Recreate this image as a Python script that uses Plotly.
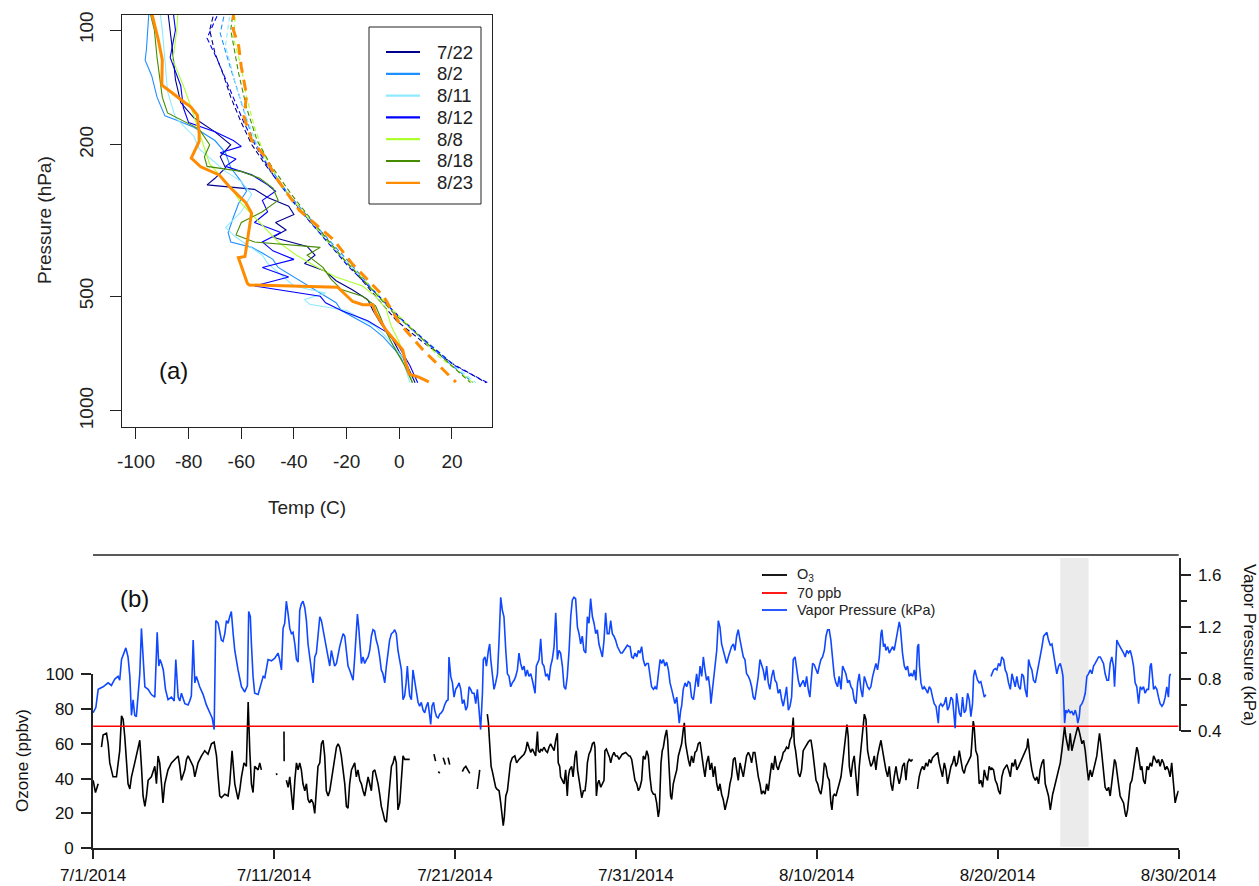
import numpy as np
import pandas as pd
import plotly.graph_objects as go

W, H = 1259, 886
FONT = "Arial, Liberation Sans, sans-serif"


def px(x):
    return x / W


def py(y):
    return 1 - y / H


# ---------------- Panel (a): soundings ----------------
sounding_dates = ["7/22", "8/2", "8/11", "8/12", "8/8", "8/18", "8/23"]
sounding_colors = ["#00008B", "#1E90FF", "#8EEAFF", "#0000FF", "#ADFF2F", "#458B00", "#FF8C00"]

# solid profiles (dew point), pressure hPa / temperature C
dew_p_0722 = [88, 100, 115, 135, 155, 170, 185, 200, 215, 230, 245, 255, 262, 275, 290, 305, 320, 335, 350, 370,
              390, 410, 430, 455, 480, 510, 545, 590, 640, 700, 760, 843]
dew_t_0722 = [-88, -87, -86, -85, -83, -78, -70, -64, -68, -66, -70, -73, -55, -50, -42, -40, -47, -43, -48, -35,
              -32, -36, -28, -24, -18, -12, -10, -7, -3, 0, 3, 6]
dew_p_0802 = [88, 100, 112, 120, 132, 150, 168, 172, 180, 195, 210, 230, 250, 265, 285, 310, 340, 360, 372, 385,
              400, 420, 445, 470, 500, 520, 545, 570, 600, 640, 700, 770, 843]
dew_t_0802 = [-95, -95.5, -96, -96.5, -94, -92, -89, -85, -78, -70, -66, -64, -60, -58, -61, -63, -65, -64, -56, -52,
              -48, -46, -40, -34, -28, -24, -22, -17, -11, -6, -1, 3, 5]
dew_p_0811 = [88, 100, 120, 145, 170, 190, 205, 220, 235, 250, 270, 300, 330, 350, 370, 390, 410, 440, 470, 490,
              510, 525, 545, 575, 600, 650, 720, 800, 843]
dew_t_0811 = [-91, -90, -89, -88, -85, -78, -76, -71, -66, -60, -56, -60, -66, -62, -57, -52, -50, -45, -40, -28,
              -36, -34, -20, -14, -9, -4, 1, 3, 4]
dew_p_0812 = [88, 100, 118, 140, 160, 175, 185, 195, 202, 210, 218, 228, 240, 255, 265, 280, 300, 320, 340, 360,
              380, 400, 420, 445, 470, 490, 500, 520, 545, 580, 620, 680, 760, 843]
dew_t_0812 = [-86, -85, -87, -83, -82, -80, -70, -63, -60, -68, -62, -66, -56, -50, -47, -52, -50, -55, -45, -52,
              -48, -40, -52, -42, -55, -38, -30, -28, -22, -12, -5, 0, 4, 7]
dew_p_0808 = [88, 100, 120, 140, 160, 185, 205, 225, 245, 265, 285, 305, 330, 360, 390, 420, 445, 470, 500, 540,
              600, 660, 730, 800, 843]
dew_t_0808 = [-84, -84.5, -86, -82, -79, -76, -74, -72, -67, -63, -60, -56, -51, -46, -39, -31, -24, -14, -9, -5,
              -3, 0, 2, 4, 5]
dew_p_0818 = [88, 100, 118, 135, 150, 165, 182, 200, 215, 228, 235, 245, 260, 280, 300, 320, 345, 360, 372, 390,
              420, 450, 480, 500, 530, 570, 620, 680, 760, 843]
dew_t_0818 = [-95, -93, -92, -91, -90, -88, -76, -72, -74, -73, -60, -53, -48, -46, -52, -60, -62, -55, -30, -35,
              -29, -26, -22, -14, -9, -7, -5, -2, 2, 5]
dew_p_0823 = [88, 106.2, 119.8, 139.4, 155.7, 159, 167.3, 186.7, 196, 217, 228.5, 240, 257.5, 284, 302.4, 341.8,
              393, 396, 462.4, 467, 473.5, 516, 526, 526, 554, 613, 677, 692, 750, 800, 816, 839]
dew_t_0823 = [-94.4, -91.5, -90, -90.2, -81.1, -79.2, -76.7, -76, -76, -79, -75.4, -68.4, -64.6, -58.3, -56.1, -57.3,
              -58.6, -61.1, -57.7, -57, -23.4, -17.7, -13.9, -10.1, -8.9, -5.1, 0, 1.3, 2.5, 3.8, 7.6, 11.2]

# dashed profiles (temperature)
temp_p_0722 = [88, 100, 115, 130, 150, 175, 200, 225, 260, 300, 360, 430, 500, 580, 660, 750, 843]
temp_t_0722 = [-70, -72, -70, -67, -64, -60, -56, -51, -44, -37, -27, -17, -9, -1, 9, 20, 33]
temp_p_0802 = [88, 102, 120, 140, 165, 190, 220, 270, 330, 400, 480, 560, 650, 750, 843]
temp_t_0802 = [-66, -68, -65, -62, -59, -56, -51, -42, -31, -20, -10, -1, 9, 19, 28]
temp_p_0811 = [88, 110, 140, 170, 200, 235, 285, 350, 420, 500, 580, 670, 770, 843]
temp_t_0811 = [-64, -66, -62, -58, -54, -49, -40, -29, -18, -8, 1, 12, 22, 29]
temp_p_0812 = [88, 105, 120, 140, 175, 205, 240, 290, 350, 420, 490, 575, 665, 760, 843]
temp_t_0812 = [-68, -73, -69, -65, -59, -54, -48, -39, -29, -19, -9, 1, 11, 21, 33.5]
temp_p_0808 = [88, 105, 125, 150, 180, 215, 260, 310, 380, 450, 530, 620, 720, 843]
temp_t_0808 = [-62, -63, -60, -58, -55, -51, -44, -35, -24, -14, -4, 6, 15, 28]
temp_p_0818 = [88, 100, 130, 160, 195, 225, 270, 330, 400, 475, 555, 640, 740, 843]
temp_t_0818 = [-63, -64, -61, -58, -54, -49, -41, -31, -21, -11, -2, 8, 18, 27]
temp_p_0823 = [88, 100, 110, 125, 148, 169, 195, 215, 243, 297, 355, 410, 500, 588, 692, 840]
temp_t_0823 = [-63, -63, -61, -60, -58, -59, -56, -51, -47, -38, -25, -18, -6, 0, 9, 21.5]

dew_p = [dew_p_0722, dew_p_0802, dew_p_0811, dew_p_0812, dew_p_0808, dew_p_0818, dew_p_0823]
dew_t = [dew_t_0722, dew_t_0802, dew_t_0811, dew_t_0812, dew_t_0808, dew_t_0818, dew_t_0823]
temp_p = [temp_p_0722, temp_p_0802, temp_p_0811, temp_p_0812, temp_p_0808, temp_p_0818, temp_p_0823]
temp_t = [temp_t_0722, temp_t_0802, temp_t_0811, temp_t_0812, temp_t_0808, temp_t_0818, temp_t_0823]

temp_ticks = [-100, -80, -60, -40, -20, 0, 20]
temp_tick_text = ["-100", "-80", "-60", "-40", "-20", "0", "20"]
pressure_ticks = [100, 200, 500, 1000]

# ---------------- Panel (b): time series ----------------
START = pd.Timestamp("2014-07-01")
date_ticks = ["2014-07-01", "2014-07-11", "2014-07-21", "2014-07-31", "2014-08-10", "2014-08-20", "2014-08-30"]
date_tick_text = ["7/1/2014", "7/11/2014", "7/21/2014", "7/31/2014", "8/10/2014", "8/20/2014", "8/30/2014"]
threshold_ppb = 70
band_start = "2014-08-23 11:00"
band_end = "2014-08-25 00:40"

# (days since 7/1, vapor pressure kPa); None = gap
vp_points = [
    (0, 0.54), (0.15, 0.58), (0.28, 0.72), (0.55, 0.74), (0.83, 0.77), (1.01, 0.75), (1.2, 0.8), (1.38, 0.82),
    (1.47, 0.79), (1.57, 0.95), (1.81, 1.04), (1.93, 0.97), (2.03, 0.82), (2.12, 0.52), (2.21, 0.64), (2.3, 0.52),
    (2.39, 0.51), (2.49, 0.69), (2.58, 0.84), (2.67, 1.19), (2.76, 0.95), (2.86, 0.74), (3.04, 0.72), (3.22, 0.68),
    (3.41, 0.66), (3.54, 1.16), (3.63, 0.9), (3.7, 0.95), (3.78, 0.92), (3.88, 0.87), (4.0, 0.72), (4.14, 0.64),
    (4.33, 0.66), (4.48, 0.63), (4.57, 0.95), (4.64, 0.82), (4.7, 0.66), (4.79, 0.63), (4.88, 0.69), (5.07, 0.61),
    (5.25, 0.6), (5.34, 0.63), (5.43, 0.67), (5.53, 1.1), (5.62, 0.77), (5.71, 0.82), (5.89, 0.74), (6.08, 0.68),
    (6.26, 0.6), (6.45, 0.54), (6.58, 0.5), (6.69, 0.41), (6.78, 1.25), (6.91, 1.23), (7.0, 1.15), (7.09, 1.1),
    (7.18, 1.09), (7.28, 1.15), (7.37, 1.25), (7.46, 1.23), (7.55, 1.28), (7.64, 1.32), (7.74, 1.15), (7.83, 1.02),
    (8.01, 0.87), (8.2, 0.74), (8.38, 0.7), (8.53, 0.75), (8.6, 1.32), (8.69, 1.28), (8.75, 1.07), (8.84, 0.82),
    (8.93, 0.69), (9.12, 0.68), (9.3, 0.77), (9.4, 0.82), (9.49, 0.81),
    (9.67, 0.95), (9.86, 0.94), (10.04, 0.96), (10.22, 1.0), (10.31, 0.95), (10.41, 0.87), (10.5, 1.19),
    (10.59, 1.23), (10.68, 1.4), (10.78, 1.3), (10.87, 1.19), (10.96, 1.15), (11.05, 1.16), (11.15, 1.07),
    (11.24, 0.95), (11.33, 0.93), (11.42, 1.33), (11.51, 1.38), (11.6, 1.4), (11.7, 1.35), (11.79, 1.25),
    (11.88, 1.07), (11.97, 0.97), (12.06, 0.84), (12.16, 0.77), (12.25, 0.97), (12.34, 1.0), (12.43, 1.13),
    (12.53, 1.28), (12.62, 1.25), (12.71, 1.18), (12.8, 1.1), (12.9, 1.02), (12.99, 0.97), (13.08, 0.9),
    (13.17, 1.02), (13.26, 0.95), (13.35, 0.9), (13.45, 0.92), (13.54, 1.0), (13.63, 1.05), (13.72, 1.1),
    (13.82, 1.15), (13.91, 1.13), (14.0, 1.02), (14.09, 0.9), (14.18, 0.87), (14.28, 0.82), (14.37, 0.79),
    (14.46, 0.97), (14.55, 1.15), (14.61, 1.3), (14.68, 1.2), (14.74, 1.07), (14.83, 0.92), (14.92, 0.97),
    (15.01, 0.92), (15.11, 0.95), (15.2, 0.97), (15.29, 1.02), (15.38, 1.13), (15.47, 1.18), (15.56, 1.17),
    (15.65, 1.1), (15.75, 1.05), (15.84, 0.97), (15.93, 0.87), (16.02, 0.84), (16.12, 0.77), (16.21, 0.9),
    (16.3, 1.02), (16.39, 1.1), (16.49, 1.15), (16.58, 1.16), (16.67, 1.18), (16.76, 1.15), (16.85, 1.02),
    (16.95, 0.92), (17.04, 0.87), (17.13, 0.64), (17.22, 0.67), (17.3, 0.77), (17.37, 0.9), (17.45, 0.74),
    (17.5, 0.67), (17.59, 0.64), (17.68, 0.87), (17.77, 0.79), (17.86, 0.72), (17.96, 0.62), (18.05, 0.59),
    (18.14, 0.62), (18.24, 0.56), (18.33, 0.54), (18.42, 0.59), (18.51, 0.62), (18.61, 0.51), (18.66, 0.45),
    (18.73, 0.59), (18.82, 0.62), (18.88, 0.56), (18.98, 0.51), (19.07, 0.5), (19.16, 0.53), (19.25, 0.54),
    (19.34, 0.56), (19.43, 0.6), (19.53, 0.63), (19.62, 0.64), (19.67, 0.97),
    (19.77, 0.82), (19.86, 0.77), (19.95, 0.66), (20.04, 0.72), (20.13, 0.74), (20.23, 0.77), (20.32, 0.72),
    (20.41, 0.61), (20.5, 0.64), (20.6, 0.56), (20.69, 0.59), (20.78, 0.74), (20.87, 0.72), (20.96, 0.69),
    (21.06, 0.69), (21.15, 0.61), (21.24, 0.72), (21.33, 0.59), (21.42, 0.41), (21.52, 0.69), (21.57, 0.95),
    (21.66, 0.97), (21.74, 0.9), (21.85, 1.02), (21.92, 1.07), (21.98, 0.95), (22.07, 0.82), (22.16, 0.72),
    (22.25, 0.77), (22.35, 0.84), (22.44, 1.1), (22.53, 1.43), (22.62, 1.33), (22.71, 1.28), (22.81, 1.02),
    (22.9, 0.84), (22.99, 0.82), (23.08, 0.74), (23.17, 0.77), (23.27, 0.79), (23.36, 0.82), (23.45, 0.87),
    (23.54, 1.0), (23.63, 0.92), (23.73, 0.87), (23.82, 0.9), (23.91, 0.82), (24.0, 0.87), (24.09, 0.82),
    (24.19, 0.84), (24.28, 0.79), (24.37, 0.74), (24.43, 0.69), (24.5, 0.9), (24.56, 0.92), (24.65, 0.95),
    (24.74, 1.11), (24.8, 1.02), (24.83, 0.92), (24.92, 0.9), (25.02, 0.82), (25.11, 0.84), (25.2, 0.79),
    (25.29, 0.9), (25.38, 0.95), (25.48, 1.05), (25.57, 1.31), (25.61, 1.2), (25.66, 0.95), (25.75, 1.02),
    (25.84, 1.0), (25.94, 0.9), (26.03, 0.74), (26.12, 0.72), (26.21, 0.82), (26.31, 1.02), (26.4, 1.28),
    (26.49, 1.41), (26.58, 1.43), (26.67, 1.42), (26.77, 1.2), (26.86, 1.15), (26.95, 1.07), (27.04, 1.13),
    (27.13, 1.02), (27.23, 1.0), (27.32, 1.28), (27.41, 1.23), (27.5, 1.42), (27.6, 1.28), (27.69, 1.23),
    (27.78, 1.15), (27.87, 1.18), (27.96, 1.07), (28.06, 1.02), (28.15, 0.97), (28.24, 1.1), (28.33, 1.31),
    (28.42, 1.15), (28.52, 1.15), (28.61, 1.25), (28.7, 1.15), (28.79, 1.13), (28.88, 1.1), (28.98, 1.05),
    (29.07, 1.02), (29.16, 1.0), (29.25, 1.0), (29.34, 1.02), (29.44, 1.04), (29.53, 1.06), (29.62, 1.05),
    (29.68, 1.05), (29.77, 0.97), (29.86, 0.96), (29.95, 1.0), (30.05, 0.97), (30.14, 1.02), (30.23, 1.0),
    (30.32, 1.05), (30.41, 0.95), (30.51, 0.9), (30.6, 0.92), (30.69, 0.92), (30.78, 0.84), (30.87, 0.74),
    (30.97, 0.72), (31.06, 0.74), (31.15, 0.72), (31.24, 0.82), (31.34, 0.95), (31.43, 0.92), (31.52, 0.95),
    (31.61, 0.9), (31.7, 0.93), (31.8, 0.87), (31.89, 0.77), (31.98, 0.72), (32.07, 0.66), (32.16, 0.61),
    (32.26, 0.66), (32.35, 0.54), (32.4, 0.46), (32.48, 0.56), (32.53, 0.59), (32.62, 0.72), (32.72, 0.77),
    (32.81, 0.74), (32.9, 0.78), (32.99, 0.77), (33.08, 0.66), (33.18, 0.64), (33.27, 0.77), (33.36, 0.84),
    (33.45, 0.74), (33.55, 0.9), (33.64, 0.82), (33.73, 0.97), (33.82, 0.87), (33.91, 0.79), (34.01, 0.82),
    (34.1, 0.72), (34.15, 0.61), (34.25, 0.74), (34.32, 0.82), (34.39, 0.95), (34.47, 1.02), (34.56, 1.25),
    (34.65, 1.2), (34.74, 1.07), (34.83, 1.02), (34.93, 0.97), (35.02, 0.92), (35.11, 0.97), (35.2, 1.02),
    (35.29, 1.05), (35.39, 1.07), (35.48, 1.02), (35.57, 1.13), (35.66, 1.18), (35.76, 1.1), (35.85, 1.02),
    (35.94, 0.97), (36.03, 0.95), (36.12, 0.84), (36.22, 0.82), (36.31, 0.79), (36.4, 0.74), (36.49, 0.66),
    (36.58, 0.64), (36.68, 0.72), (36.77, 0.82), (36.86, 0.95), (36.95, 0.9), (37.04, 0.87), (37.14, 0.79),
    (37.23, 0.9), (37.32, 0.77), (37.41, 0.72), (37.51, 0.82), (37.6, 0.87), (37.69, 0.79), (37.78, 0.77),
    (37.87, 0.69), (37.97, 0.72), (38.06, 0.64), (38.15, 0.59), (38.24, 0.66), (38.33, 0.74), (38.43, 0.56),
    (38.52, 0.59), (38.61, 0.66), (38.7, 0.95), (38.8, 0.97), (38.89, 0.87), (38.98, 0.79), (39.07, 0.74),
    (39.16, 0.77), (39.25, 0.79), (39.35, 0.74), (39.44, 0.82), (39.53, 0.72), (39.62, 0.66),
    (39.68, 0.77), (39.77, 0.92), (39.86, 0.91), (39.96, 0.87), (40.05, 0.84), (40.14, 0.9), (40.23, 0.95),
    (40.32, 0.97), (40.42, 1.02), (40.51, 1.13), (40.6, 1.18), (40.69, 1.18), (40.78, 1.1), (40.88, 0.95),
    (40.97, 0.82), (41.06, 0.77), (41.15, 0.74), (41.24, 0.82), (41.34, 0.72), (41.43, 0.9), (41.52, 0.87),
    (41.61, 0.84), (41.71, 0.77), (41.8, 0.79), (41.89, 0.74), (41.98, 0.72), (42.07, 0.64), (42.17, 0.61),
    (42.26, 0.77), (42.35, 0.84), (42.44, 0.72), (42.53, 0.66), (42.63, 0.82), (42.72, 0.77), (42.81, 0.74),
    (42.9, 0.72), (42.99, 0.74), (43.09, 0.82), (43.18, 0.87), (43.27, 0.92), (43.36, 0.87), (43.46, 0.97),
    (43.55, 1.15), (43.6, 1.18), (43.69, 1.05), (43.77, 1.07), (43.82, 1.02), (43.92, 1.05), (44.01, 1.0),
    (44.1, 1.02), (44.19, 1.05), (44.28, 1.02), (44.38, 1.1), (44.47, 1.15), (44.56, 1.24), (44.62, 1.2),
    (44.69, 1.05), (44.74, 1.0), (44.84, 0.9), (44.93, 0.87), (45.02, 0.9), (45.11, 0.82), (45.21, 0.84),
    (45.3, 0.82), (45.39, 0.87), (45.48, 0.79), (45.57, 1.05), (45.63, 1.07), (45.68, 0.9), (45.76, 0.77),
    (45.85, 0.72), (45.94, 0.74), (46.03, 0.72), (46.13, 0.69), (46.22, 0.74), (46.31, 0.72), (46.4, 0.66),
    (46.49, 0.61), (46.59, 0.59), (46.64, 0.54), (46.72, 0.46), (46.77, 0.59), (46.86, 0.61), (46.95, 0.59),
    (47.05, 0.61), (47.14, 0.66), (47.23, 0.56), (47.32, 0.59), (47.42, 0.66), (47.51, 0.64), (47.6, 0.51),
    (47.65, 0.42), (47.73, 0.69), (47.78, 0.64), (47.88, 0.54), (47.97, 0.51), (48.06, 0.66), (48.15, 0.54),
    (48.24, 0.56), (48.34, 0.69), (48.43, 0.64), (48.52, 0.51), (48.61, 0.61), (48.67, 0.82), (48.74, 0.87),
    (48.83, 0.82), (48.89, 0.79), (48.98, 0.77), (49.07, 0.78), (49.17, 0.72), (49.26, 0.66), (49.35, 0.68),
    None,
    (49.63, 0.82), (49.68, 0.84), (49.77, 0.87), (49.87, 0.88), (49.96, 0.87), (50.05, 0.92), (50.14, 0.9),
    (50.23, 0.97), (50.33, 0.95), (50.42, 0.87), (50.51, 0.84), (50.6, 0.77), (50.7, 0.72), (50.79, 0.84),
    (50.88, 0.79), (50.97, 0.74), (51.06, 0.82), (51.16, 0.74), (51.25, 0.72), (51.34, 0.84), (51.43, 0.82),
    (51.52, 0.72), (51.62, 0.66), (51.71, 0.95), (51.8, 0.9), (51.89, 0.87), (51.98, 0.79), (52.08, 0.77),
    (52.17, 0.84), (52.26, 0.9), (52.35, 0.97), (52.45, 1.05), (52.54, 1.13), (52.63, 1.15), (52.72, 1.16),
    (52.81, 1.1), (52.91, 1.06), (53.0, 1.07), (53.09, 1.0), (53.18, 0.92), (53.27, 0.84), (53.37, 0.9),
    (53.46, 0.92), (53.55, 0.87), (53.61, 0.82), (53.7, 0.46), (53.77, 0.56), (53.83, 0.54), (53.92, 0.56),
    (54.01, 0.54), (54.1, 0.55), (54.19, 0.52), (54.29, 0.56), (54.38, 0.51), (54.43, 0.46), (54.51, 0.51),
    (54.56, 0.59), (54.66, 0.61), (54.75, 0.64), (54.84, 0.69), (54.93, 0.82), (55.02, 0.84), (55.12, 0.87),
    (55.21, 0.84), (55.3, 0.9), (55.39, 0.92), (55.48, 0.95), (55.58, 0.97), (55.67, 0.97), (55.76, 0.95),
    (55.85, 0.92), (55.94, 0.84), (56.04, 0.79), (56.13, 0.79), (56.22, 0.92), (56.31, 0.97), (56.4, 0.9),
    (56.46, 0.74), (56.53, 0.95), (56.59, 1.1), (56.68, 1.07), (56.77, 1.05), (56.87, 1.02), (56.96, 1.0),
    (57.05, 0.97), (57.14, 1.02), (57.23, 1.0), (57.33, 1.02), (57.42, 0.97), (57.51, 0.9), (57.6, 0.77),
    (57.69, 0.74), (57.79, 0.61), (57.88, 0.74), (57.97, 0.72), (58.06, 0.74), (58.15, 0.69), (58.25, 0.72),
    (58.34, 0.72), (58.43, 0.9), (58.49, 0.92), (58.56, 0.79), (58.62, 0.72), (58.71, 0.74), (58.8, 0.72),
    (58.89, 0.66), (58.98, 0.61), (59.08, 0.59), (59.17, 0.61), (59.26, 0.66), (59.35, 0.74), (59.44, 0.66),
    (59.5, 0.82), (59.55, 0.84),
]

# (days since 7/1, ozone ppbv); None = gap
o3_points = [
    (0, 39), (0.13, 32), (0.28, 37), None,
    (0.46, 58), (0.55, 65), (0.74, 66), (0.83, 60), (0.92, 49), (1.1, 41), (1.29, 41), (1.47, 56), (1.57, 76),
    (1.66, 74), (1.75, 64), (1.84, 49), (1.93, 37), (2.03, 34), (2.12, 41), (2.3, 49), (2.49, 58), (2.58, 62),
    (2.67, 47), (2.76, 30), (2.86, 24), (2.95, 30), (3.04, 39), (3.22, 41), (3.41, 47), (3.5, 37), (3.59, 53),
    (3.68, 49), (3.78, 37), (3.86, 26), (3.96, 37), (4.14, 45), (4.33, 49), (4.51, 51), (4.7, 53), (4.79, 47),
    (4.88, 39), (5.07, 45), (5.16, 51), (5.25, 53), (5.43, 49), (5.53, 47), (5.62, 41), (5.8, 49), (5.99, 53),
    (6.17, 56), (6.35, 54), (6.54, 60), (6.69, 61), (6.82, 53), (6.91, 41), (7.0, 30), (7.09, 29), (7.28, 31),
    (7.46, 30), (7.55, 37), (7.68, 56), (7.83, 37), (8.01, 28), (8.1, 33), (8.2, 41), (8.34, 49), (8.47, 47),
    (8.57, 84), (8.66, 56), (8.75, 37), (8.84, 32), (8.93, 47), (9.12, 45), (9.21, 49), (9.3, 45), None,
    (10.13, 43), (10.16, 42), None, (10.55, 67), (10.56, 50), None,
    (10.68, 39), (10.78, 35), (10.87, 41), (10.96, 33), (11.05, 22), (11.15, 39), (11.24, 49), (11.33, 45),
    (11.42, 49), (11.51, 45), (11.6, 37), (11.7, 33), (11.79, 37), (11.88, 28), (11.97, 26), (12.06, 28),
    (12.16, 26), (12.25, 20), (12.34, 37), (12.43, 47), (12.53, 49), (12.62, 60), (12.71, 62), (12.8, 53),
    (12.89, 33), (12.99, 30), (13.08, 33), (13.17, 39), (13.26, 45), (13.35, 53), (13.45, 58), (13.54, 60),
    (13.63, 58), (13.72, 53), (13.82, 45), (13.91, 37), (14.0, 24), (14.09, 23), (14.18, 37), (14.28, 45),
    (14.37, 47), (14.46, 49), (14.55, 41), (14.64, 45), (14.74, 39), (14.83, 37), (14.92, 33), (15.01, 30),
    (15.1, 35), (15.2, 41), (15.29, 37), (15.38, 33), (15.47, 44), (15.57, 45), (15.66, 41), (15.75, 37),
    (15.84, 31), (15.93, 24), (16.03, 20), (16.12, 16), (16.21, 15), (16.3, 24), (16.39, 37), (16.49, 47),
    (16.58, 49), (16.67, 53), (16.76, 49), (16.85, 22), (16.95, 26), (17.04, 39), (17.13, 53), (17.22, 51),
    (17.41, 51), (17.5, 51), None,
    (18.84, 54), (18.93, 50), None, (19.08, 44), (19.16, 43), None, (19.35, 52), (19.47, 48), None,
    (19.62, 52), (19.71, 48), None,
    (20.41, 44), (20.5, 46), (20.6, 47), (20.69, 45), (20.82, 43), None, (21.24, 34), (21.3, 38), (21.37, 45), None,
    (21.79, 77), (21.85, 72), (21.92, 60), (22.0, 47), (22.07, 44), (22.16, 39), (22.25, 35), (22.31, 34),
    (22.44, 33), (22.53, 26), (22.62, 18), (22.67, 13), (22.73, 18), (22.81, 30), (22.9, 33), (23.0, 41),
    (23.07, 49), (23.17, 52), (23.31, 53), (23.41, 49), (23.54, 51), (23.73, 53), (23.82, 54), (23.91, 56),
    (24.0, 61), (24.09, 58), (24.19, 55), (24.28, 57), (24.37, 55), (24.46, 53), (24.56, 67), (24.61, 56),
    (24.69, 55), (24.74, 57), (24.83, 56), (24.92, 58), (25.02, 56), (25.11, 55), (25.2, 58), (25.29, 60),
    (25.38, 58), (25.48, 56), (25.57, 62), (25.66, 66), (25.71, 49), (25.79, 47), (25.84, 41), (25.94, 39),
    (26.03, 37), (26.12, 45), (26.16, 35), (26.21, 30), (26.27, 41), (26.34, 45), (26.45, 47), (26.53, 41),
    (26.64, 53), (26.71, 56), (26.78, 45), (26.89, 37), (26.95, 33), (27.01, 29), (27.1, 33), (27.19, 33),
    (27.26, 39), (27.32, 49), (27.41, 54), (27.5, 56), (27.6, 60), (27.69, 61), (27.74, 58), (27.82, 30),
    (27.89, 37), (27.96, 39), (28.06, 35), (28.15, 37), (28.24, 39), (28.29, 56), (28.37, 57), (28.48, 54),
    (28.55, 52), (28.61, 49), (28.7, 53), (28.79, 55), (28.88, 53), (28.98, 53), (29.07, 51), (29.25, 54),
    (29.44, 55), (29.53, 54), (29.62, 53),
    (29.68, 53), (29.77, 51), (29.86, 45), (29.95, 39), (30.05, 37), (30.14, 33), (30.23, 35), (30.32, 39),
    (30.41, 53), (30.51, 51), (30.6, 56), (30.69, 53), (30.78, 41), (30.87, 33), (30.97, 31), (31.06, 31),
    (31.15, 26), (31.24, 18), (31.3, 22), (31.34, 37), (31.39, 49), (31.46, 56), (31.52, 58), (31.61, 64),
    (31.7, 68), (31.76, 62), (31.85, 41), (31.92, 30), (31.98, 28), (32.07, 37), (32.16, 41), (32.26, 45),
    (32.35, 53), (32.44, 56), (32.53, 60), (32.62, 68), (32.68, 72), (32.75, 60), (32.81, 56), (32.9, 51),
    (32.99, 47), (33.08, 53), (33.18, 49), (33.27, 55), (33.36, 56), (33.45, 60), (33.55, 61), (33.64, 53),
    (33.73, 47), (33.82, 41), (33.91, 49), (34.01, 53), (34.1, 45), (34.19, 49), (34.28, 41), (34.37, 47),
    (34.47, 37), (34.56, 33), (34.65, 37), (34.74, 31), (34.83, 28), (34.93, 22), (35.02, 26), (35.11, 30),
    (35.2, 37), (35.29, 41), (35.39, 51), (35.48, 52), (35.57, 45), (35.66, 39), (35.76, 49), (35.85, 45),
    (35.94, 41), (36.03, 47), (36.12, 53), (36.22, 55), (36.31, 53), (36.4, 49), (36.49, 55), (36.58, 55),
    (36.68, 47), (36.77, 41), (36.86, 37), (36.95, 31), (37.04, 33), (37.14, 31), (37.23, 37), (37.32, 33),
    (37.41, 41), (37.51, 49), (37.6, 45), (37.69, 53), (37.78, 47), (37.87, 45), (37.97, 49), (38.06, 51),
    (38.15, 55), (38.24, 56), (38.33, 58), (38.43, 57), (38.52, 62), (38.61, 64), (38.7, 75), (38.76, 60),
    (38.83, 56), (38.89, 49), (38.98, 43), (39.07, 41), (39.16, 45), (39.25, 56), (39.35, 58), (39.44, 60),
    (39.53, 61), (39.62, 62),
    (39.68, 62), (39.77, 56), (39.86, 49), (39.96, 39), (40.05, 37), (40.14, 33), (40.23, 31), (40.32, 37),
    (40.42, 49), (40.51, 47), (40.6, 41), (40.69, 39), (40.78, 26), (40.84, 22), (40.91, 30), (40.97, 31),
    (41.06, 30), (41.15, 33), (41.24, 37), (41.34, 41), (41.43, 49), (41.52, 56), (41.61, 64), (41.67, 71),
    (41.74, 64), (41.8, 47), (41.89, 41), (41.98, 49), (42.07, 53), (42.17, 41), (42.26, 30), (42.35, 47),
    (42.44, 56), (42.53, 68), (42.63, 77), (42.72, 74), (42.81, 56), (42.9, 51), (42.99, 47), (43.09, 49),
    (43.18, 53), (43.27, 45), (43.36, 53), (43.46, 58), (43.55, 62), (43.64, 56), (43.73, 49), (43.82, 45),
    (43.92, 41), (44.01, 47), (44.1, 37), (44.19, 33), (44.28, 41), (44.38, 47), (44.47, 41), (44.56, 37),
    (44.65, 41), (44.74, 47), (44.84, 49), (44.93, 39), (45.02, 49), (45.11, 51), (45.21, 50), (45.3, 51), None,
    (45.57, 34), (45.66, 41), (45.76, 45), (45.85, 47), (45.94, 45), (46.03, 49), (46.13, 47), (46.22, 51),
    (46.31, 49), (46.4, 52), (46.49, 53), (46.59, 54), (46.68, 55), (46.77, 49), (46.86, 45), (46.95, 41),
    (47.05, 49), (47.14, 45), (47.23, 37), (47.32, 41), (47.42, 47), (47.51, 49), (47.6, 53), (47.69, 47),
    (47.78, 49), (47.88, 56), (47.97, 49), (48.06, 45), (48.15, 43), (48.24, 47), (48.34, 49), (48.43, 51),
    (48.52, 53), (48.57, 60), (48.65, 73), (48.7, 70), (48.79, 56), (48.89, 53), (48.98, 37), (49.07, 39),
    (49.17, 35), (49.26, 45), (49.35, 41), (49.44, 39), (49.53, 47), (49.63, 45),
    (49.68, 46), (49.77, 45), (49.87, 39), (49.96, 37), (50.05, 33), (50.14, 31), (50.23, 41), (50.33, 45),
    (50.42, 47), (50.51, 48), (50.6, 45), (50.7, 41), (50.79, 49), (50.88, 47), (50.97, 51), (51.06, 45),
    (51.16, 47), (51.25, 49), (51.34, 51), (51.43, 53), (51.52, 55), (51.62, 58), (51.67, 63), (51.74, 55),
    (51.8, 51), (51.89, 45), (51.98, 41), (52.08, 39), (52.17, 41), (52.26, 37), (52.35, 45), (52.45, 49),
    (52.54, 51), (52.63, 37), (52.72, 33), (52.81, 30), (52.91, 22), (52.96, 26), (53.04, 31), (53.09, 33),
    (53.18, 37), (53.27, 41), (53.37, 45), (53.46, 49), (53.55, 56), (53.64, 64), (53.7, 70), (53.77, 64),
    (53.84, 60), (53.92, 56), (54.01, 66), (54.1, 56), (54.19, 60), (54.29, 64), (54.38, 67), (54.43, 70),
    (54.51, 67), (54.56, 64), (54.66, 60), (54.75, 62), (54.84, 56), (54.93, 47), (55.02, 39), (55.12, 45),
    (55.21, 41), (55.3, 45), (55.39, 49), (55.48, 53), (55.58, 62), (55.63, 66), (55.7, 60), (55.76, 53),
    (55.85, 45), (55.94, 35), (56.04, 33), (56.13, 35), (56.22, 30), (56.31, 37), (56.4, 47), (56.46, 51),
    (56.53, 49), (56.59, 45), (56.68, 37), (56.77, 30), (56.87, 28), (56.96, 26), (57.05, 20), (57.1, 18),
    (57.18, 22), (57.23, 26), (57.33, 37), (57.42, 39), (57.51, 45), (57.6, 53), (57.69, 58), (57.75, 56),
    (57.82, 49), (57.9, 45), (57.97, 47), (58.06, 39), (58.15, 37), (58.25, 47), (58.34, 45), (58.43, 49),
    (58.52, 47), (58.62, 53), (58.71, 51), (58.8, 49), (58.89, 51), (58.98, 47), (59.08, 51), (59.17, 49),
    (59.26, 45), (59.35, 47), (59.44, 45), (59.53, 41), (59.62, 49), (59.72, 37), (59.81, 26), (59.9, 30),
    (59.99, 33),
]


def split_series(points):
    xs, ys = [], []
    for p in points:
        if p is None:
            xs.append(None)
            ys.append(None)
        else:
            xs.append(START + pd.Timedelta(days=p[0]))
            ys.append(p[1])
    return xs, ys


vp_x, vp_y = split_series(vp_points)
o3_x, o3_y = split_series(o3_points)

fig = go.Figure()

# ---- panel (a) traces ----
for i, name in enumerate(sounding_dates):
    thick = name == "8/23"
    fig.add_trace(go.Scatter(
        x=temp_t[i], y=temp_p[i], mode="lines", xaxis="x", yaxis="y", showlegend=False,
        line=dict(color=sounding_colors[i], width=3 if thick else 1.1,
                  dash="11px,7px" if thick else "5px,3px"),
        name=name + " T"))
for i, name in enumerate(sounding_dates):
    thick = name == "8/23"
    fig.add_trace(go.Scatter(
        x=dew_t[i], y=dew_p[i], mode="lines", xaxis="x", yaxis="y", showlegend=False,
        line=dict(color=sounding_colors[i], width=3 if thick else 1.1),
        name=name))

# ---- panel (b) traces ----
fig.add_trace(go.Scatter(x=o3_x, y=o3_y, mode="lines", xaxis="x2", yaxis="y2", showlegend=False,
                         line=dict(color="black", width=1.6), name="O3", connectgaps=False))
fig.add_trace(go.Scatter(x=[START, pd.Timestamp(date_ticks[-1])], y=[threshold_ppb, threshold_ppb],
                         mode="lines", xaxis="x2", yaxis="y2", showlegend=False,
                         line=dict(color="#FF0000", width=1.6), name="70 ppb"))
fig.add_trace(go.Scatter(x=vp_x, y=vp_y, mode="lines", xaxis="x2", yaxis="y3", showlegend=False,
                         line=dict(color="#1048FF", width=1.6), name="Vapor Pressure (kPa)", connectgaps=False))

tick_font_a = dict(family=FONT, size=19, color="#222222")
tick_font_b = dict(family=FONT, size=17, color="#111111")

fig.update_layout(
    width=W, height=H,
    margin=dict(l=0, r=0, t=0, b=0),
    paper_bgcolor="white", plot_bgcolor="rgba(0,0,0,0)",
    showlegend=False,
    font=dict(family=FONT, color="#222222"),
    xaxis=dict(domain=[px(122), px(492)], anchor="y", range=[-105.3, 35.2], tickvals=temp_ticks,
               ticktext=temp_tick_text,
               ticks="outside", ticklen=11, tickwidth=1, tickcolor="#222", showline=True, linecolor="#222",
               linewidth=1, mirror=True, showgrid=False, zeroline=False, tickfont=tick_font_a,
               ticklabelstandoff=6, automargin=False),
    yaxis=dict(domain=[py(427), py(15)], anchor="x", type="log",
               range=[np.log10(1102), np.log10(91.3)], tickvals=pressure_ticks,
               ticktext=[str(v) for v in pressure_ticks], tickangle=-90,
               ticks="outside", ticklen=11, tickwidth=1, tickcolor="#222", showline=True, linecolor="#222",
               linewidth=1, mirror=True, showgrid=False, zeroline=False, tickfont=tick_font_a,
               ticklabelstandoff=9, automargin=False),
    xaxis2=dict(domain=[px(93), px(1178.7)], anchor="y2", type="date",
                range=["2014-06-30 23:50", "2014-08-30 00:10"], tickvals=date_ticks, ticktext=date_tick_text,
                ticks="outside", ticklen=9, tickwidth=1.5, tickcolor="#222", showline=True, linecolor="#222",
                linewidth=1.6, showgrid=False, zeroline=False, tickfont=tick_font_b, ticklabelstandoff=1,
                automargin=False),
    yaxis2=dict(domain=[py(848.3), py(674)], anchor="x2", range=[-0.05, 100.05], tick0=0, dtick=20,
                ticks="outside", ticklen=10, tickwidth=1.5, tickcolor="#222", showline=True, linecolor="#222",
                linewidth=1.6, showgrid=False, zeroline=False, tickfont=tick_font_b, ticklabelstandoff=4,
                automargin=False),
    yaxis3=dict(domain=[py(731), py(558)], anchor="x2", side="right", range=[0.399, 1.733], tick0=0.4, dtick=0.4,
                tickformat=".1f",
                ticks="outside", ticklen=10, tickwidth=1.5, tickcolor="#222", showline=True, linecolor="#222",
                linewidth=1.6, showgrid=False, zeroline=False, tickfont=tick_font_b, ticklabelstandoff=4,
                minor=dict(dtick=0.2, tick0=0.4, ticks="outside", ticklen=6, tickwidth=1.5, tickcolor="#222"),
                automargin=False),
)

shapes = []
# shaded period in panel (b)
shapes.append(dict(type="rect", xref="x2", yref="paper", x0=band_start, x1=band_end, y0=py(846.7), y1=py(558),
                   fillcolor="#EBEBEB", line=dict(width=0), layer="below"))
# top frame line of panel (b)
shapes.append(dict(type="line", xref="paper", yref="paper", x0=px(93), x1=px(1178.7), y0=py(555), y1=py(555),
                   line=dict(color="#222", width=1.6)))

# legend of panel (a)
shapes.append(dict(type="rect", xref="paper", yref="paper", x0=px(369), x1=px(481), y0=py(204), y1=py(27),
                   line=dict(color="#222", width=1), fillcolor="white"))
annotations = []
for i, name in enumerate(sounding_dates):
    yrow = 52 + 21.8 * i
    shapes.append(dict(type="line", xref="paper", yref="paper", x0=px(386), x1=px(420), y0=py(yrow), y1=py(yrow),
                       line=dict(color=sounding_colors[i], width=2.2)))
    annotations.append(dict(x=px(435), y=py(yrow), xref="paper", yref="paper", text=name, showarrow=False,
                            xanchor="left", yanchor="middle", font=dict(family=FONT, size=18.5, color="#222")))

# legend of panel (b)
legend_b = [("O<sub>3</sub>", "black", 575), ("70 ppb", "#FF0000", 593), ("Vapor Pressure (kPa)", "#1048FF", 610)]
for label, col, yrow in legend_b:
    shapes.append(dict(type="line", xref="paper", yref="paper", x0=px(762), x1=px(787), y0=py(yrow), y1=py(yrow),
                       line=dict(color=col, width=1.8)))
    annotations.append(dict(x=px(795), y=py(yrow), xref="paper", yref="paper", text=label, showarrow=False,
                            xanchor="left", yanchor="middle", font=dict(family=FONT, size=14.5, color="#222")))

# titles and panel labels
CM = dict(xref="paper", yref="paper", showarrow=False, xanchor="center", yanchor="middle")
annotations += [
    dict(x=px(307), y=py(507), text="Temp (C)", font=dict(family=FONT, size=19, color="#222"), **CM),
    dict(x=px(45), y=py(220), text="Pressure (hPa)", textangle=-90,
         font=dict(family=FONT, size=19, color="#222"), **CM),
    dict(x=px(173), y=py(370), text="(a)", font=dict(family=FONT, size=24, color="#111"), **CM),
    dict(x=px(134), y=py(598), text="(b)", font=dict(family=FONT, size=24, color="#111"), **CM),
    dict(x=px(22), y=py(761), text="Ozone (ppbv)", textangle=-90,
         font=dict(family=FONT, size=17, color="#111"), **CM),
    dict(x=px(1250), y=py(645), text="Vapor Pressure (kPa)", textangle=90,
         font=dict(family=FONT, size=17, color="#111"), **CM),
]

fig.update_layout(shapes=shapes, annotations=annotations)
fig.write_html("out.html", config={"displayModeBar": False},
               post_script="document.body.style.margin='0px';document.body.style.overflow='hidden';")
